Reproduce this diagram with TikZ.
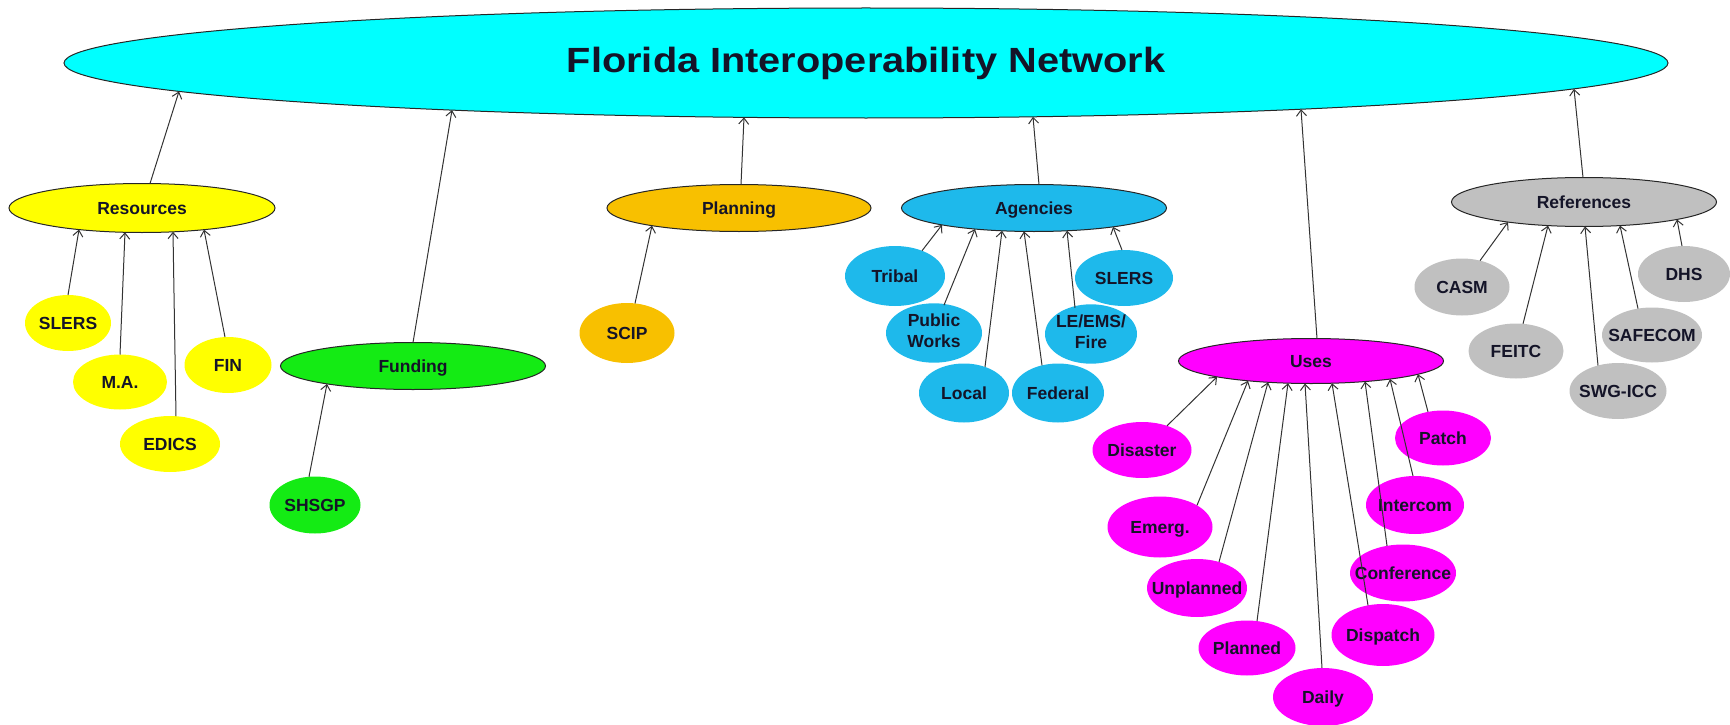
\documentclass[tikz,border=0pt]{standalone}
\usepackage{graphicx}
\usepackage{fontspec}
\setmainfont{Liberation Sans}
\usetikzlibrary{arrows.meta,shapes.geometric,calc}
\definecolor{cCyan}{RGB}{0,255,255}
\definecolor{cYel}{RGB}{255,255,0}
\definecolor{cOra}{RGB}{248,192,0}
\definecolor{cBlue}{RGB}{30,185,235}
\definecolor{cGreen}{RGB}{20,235,20}
\definecolor{cMag}{RGB}{255,0,255}
\definecolor{cGray}{RGB}{192,192,192}
\definecolor{txt}{RGB}{20,20,40}
\tikzset{
  base/.style={ellipse, inner sep=0pt, outer sep=0pt, text=txt,
    font=\bfseries\fontsize{17.5}{21}\selectfont, text height=12.5pt, text depth=0pt},
  topnode/.style={base, draw=black!85, line width=1pt},
  leaf/.style={base},
  twoline/.style={text height={}, text depth={}},
  conn/.style={draw=black!80, line width=1pt, -{Straight Barb[length=6pt,width=10pt]}},
}
\newcommand\nd[7]{%
  \node[#6, minimum width=#4pt, minimum height=#5pt] (#1) at (#2,#3) {#7};%
  \expandafter\xdef\csname w@#1\endcsname{#4}%
  \expandafter\xdef\csname h@#1\endcsname{#5}%
}
\newcommand\lnk[4]{%
  \pgfmathsetmacro\lnkrc{(#2)/(\csname w@#1\endcsname/2)}%
  \pgfmathsetmacro\lnkcy{(\csname h@#1\endcsname/2)*sqrt(max(0,1-\lnkrc*\lnkrc))}%
  \pgfmathsetmacro\lnkrp{(#4)/(\csname w@#3\endcsname/2)}%
  \pgfmathsetmacro\lnkpy{(\csname h@#3\endcsname/2)*sqrt(max(0,1-\lnkrp*\lnkrp))}%
  \draw[conn] ($(#1.center)+(#2,-\lnkcy)$) -- ($(#3.center)+(#4,\lnkpy)$);%
}
\newcommand\lb[1]{\makebox[0pt]{#1}}
\newcommand\lbb[2]{\makebox[0pt]{\begin{tabular}{@{}c@{}}#1\\#2\end{tabular}}}
\begin{document}
\begin{tikzpicture}[x=1pt,y=-1pt]
\useasboundingbox (0,0) rectangle (1730,725);
% main
\nd{main}{866}{63}{1604}{110}{topnode,fill=cCyan,font=\bfseries\fontsize{35}{38}\selectfont,text height=25pt}{\lb{\raisebox{2.5pt}{\scalebox{1.135}[1]{Florida Interoperability Network}}}}
% second level
\nd{res}{142}{208}{266}{49}{topnode,fill=cYel}{\lb{Resources}}
\nd{fund}{413}{366}{265}{47}{topnode,fill=cGreen}{\lb{Funding}}
\nd{plan}{739}{208}{264}{47}{topnode,fill=cOra}{\lb{Planning}}
\nd{agen}{1034}{208}{265}{47}{topnode,fill=cBlue}{\lb{Agencies}}
\nd{uses}{1311}{361}{265}{45}{topnode,fill=cMag}{\lb{Uses}}
\nd{refs}{1584}{202}{265}{49}{topnode,fill=cGray}{\lb{References}}
% leaves
\nd{slersy}{68}{323}{86}{56}{leaf,fill=cYel}{\lb{SLERS}}
\nd{ma}{120}{382}{94}{55}{leaf,fill=cYel}{\lb{M.A.}}
\nd{edics}{170}{444}{100}{56}{leaf,fill=cYel}{\lb{EDICS}}
\nd{fin}{228}{365}{87}{56}{leaf,fill=cYel}{\lb{FIN}}
\nd{shsgp}{315}{505}{91}{57}{leaf,fill=cGreen}{\lb{SHSGP}}
\nd{scip}{627}{333}{95}{60}{leaf,fill=cOra}{\lb{SCIP}}
\nd{tribal}{895}{276}{100}{60}{leaf,fill=cBlue}{\lb{Tribal}}
\nd{pw}{934}{333}{96}{57}{leaf,fill=cBlue,twoline}{\lbb{Public}{Works}}
\nd{local}{964}{393}{90}{59}{leaf,fill=cBlue}{\lb{Local}}
\nd{federal}{1058}{393}{92}{59}{leaf,fill=cBlue}{\lb{Federal}}
\nd{lef}{1091}{334}{92}{56}{leaf,fill=cBlue,twoline}{\lbb{LE/EMS/}{Fire}}
\nd{slersb}{1124}{278}{98}{56}{leaf,fill=cBlue}{\lb{SLERS}}
\nd{disaster}{1142}{450}{99}{56}{leaf,fill=cMag}{\lb{Disaster}}
\nd{emerg}{1160}{527}{105}{61}{leaf,fill=cMag}{\lb{Emerg.}}
\nd{unpl}{1197}{588}{100}{58}{leaf,fill=cMag}{\lb{Unplanned}}
\nd{planned}{1247}{648}{97}{55}{leaf,fill=cMag}{\lb{Planned}}
\nd{daily}{1323}{697}{100}{58}{leaf,fill=cMag}{\lb{Daily}}
\nd{dispatch}{1383}{635}{103}{62}{leaf,fill=cMag}{\lb{Dispatch}}
\nd{conf}{1403}{573}{106}{57}{leaf,fill=cMag}{\lb{Conference}}
\nd{intercom}{1415}{505}{98}{58}{leaf,fill=cMag}{\lb{Intercom}}
\nd{patch}{1443}{438}{96}{55}{leaf,fill=cMag}{\lb{Patch}}
\nd{casm}{1462}{287}{95}{57}{leaf,fill=cGray}{\lb{CASM}}
\nd{feitc}{1516}{351}{95}{55}{leaf,fill=cGray}{\lb{FEITC}}
\nd{swg}{1618}{391}{97}{56}{leaf,fill=cGray}{\lb{SWG-ICC}}
\nd{safecom}{1652}{335}{100}{55}{leaf,fill=cGray}{\lb{SAFECOM}}
\nd{dhs}{1684}{274}{92}{56}{leaf,fill=cGray}{\lb{DHS}}
% connectors
\lnk{res}{8}{main}{-687}
\lnk{fund}{0}{main}{-414}
\lnk{plan}{2}{main}{-122}
\lnk{agen}{5}{main}{167}
\lnk{uses}{6}{main}{435}
\lnk{refs}{-1}{main}{708}
\lnk{slersy}{0}{res}{-63}
\lnk{ma}{0}{res}{-17}
\lnk{edics}{6}{res}{31}
\lnk{fin}{-3}{res}{62}
\lnk{shsgp}{-6}{fund}{-86}
\lnk{scip}{8}{plan}{-87}
\lnk{tribal}{27}{agen}{-92}
\lnk{pw}{10}{agen}{-59}
\lnk{local}{21}{agen}{-32}
\lnk{federal}{-16}{agen}{-10}
\lnk{lef}{-16}{agen}{33}
\lnk{slersb}{-2}{agen}{79}
\lnk{disaster}{25}{uses}{-94}
\lnk{emerg}{37}{uses}{-63}
\lnk{unpl}{22}{uses}{-43}
\lnk{planned}{10}{uses}{-23}
\lnk{daily}{-1}{uses}{-6}
\lnk{dispatch}{-15}{uses}{21}
\lnk{conf}{-16}{uses}{54}
\lnk{intercom}{-2}{uses}{79}
\lnk{patch}{-15}{uses}{107}
\lnk{casm}{18}{refs}{-76}
\lnk{feitc}{7}{refs}{-36}
\lnk{swg}{-20}{refs}{1}
\lnk{safecom}{-14}{refs}{36}
\lnk{dhs}{-2}{refs}{93}
\end{tikzpicture}
\end{document}
